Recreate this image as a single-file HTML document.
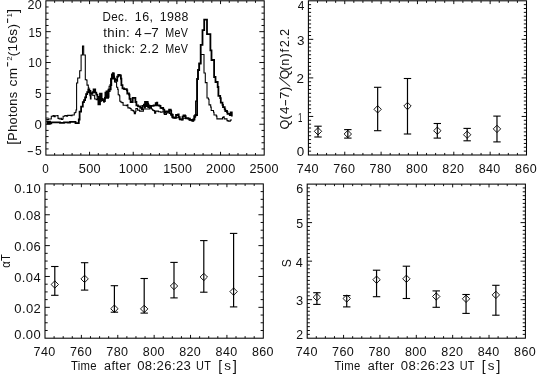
<!DOCTYPE html>
<html><head><meta charset="utf-8"><title>plot</title>
<style>
html,body{margin:0;padding:0;background:#fff;}
svg{display:block;font-family:"Liberation Sans",sans-serif;}
text{white-space:pre;fill:#111;}
</style></head><body>
<svg width="537" height="374" viewBox="0 0 537 374">
<rect width="537" height="374" fill="#fff"/>
<rect x="45.90" y="0.80" width="218.30" height="154.30" fill="none" stroke="#000" stroke-width="1.05"/>
<line x1="54.63" y1="155.10" x2="54.63" y2="153.05" stroke="#000" stroke-width="0.95"/>
<line x1="54.63" y1="0.80" x2="54.63" y2="2.85" stroke="#000" stroke-width="0.95"/>
<line x1="63.36" y1="155.10" x2="63.36" y2="153.05" stroke="#000" stroke-width="0.95"/>
<line x1="63.36" y1="0.80" x2="63.36" y2="2.85" stroke="#000" stroke-width="0.95"/>
<line x1="72.10" y1="155.10" x2="72.10" y2="153.05" stroke="#000" stroke-width="0.95"/>
<line x1="72.10" y1="0.80" x2="72.10" y2="2.85" stroke="#000" stroke-width="0.95"/>
<line x1="80.83" y1="155.10" x2="80.83" y2="153.05" stroke="#000" stroke-width="0.95"/>
<line x1="80.83" y1="0.80" x2="80.83" y2="2.85" stroke="#000" stroke-width="0.95"/>
<line x1="89.56" y1="155.10" x2="89.56" y2="151.80" stroke="#000" stroke-width="0.95"/>
<line x1="89.56" y1="0.80" x2="89.56" y2="4.10" stroke="#000" stroke-width="0.95"/>
<line x1="98.29" y1="155.10" x2="98.29" y2="153.05" stroke="#000" stroke-width="0.95"/>
<line x1="98.29" y1="0.80" x2="98.29" y2="2.85" stroke="#000" stroke-width="0.95"/>
<line x1="107.02" y1="155.10" x2="107.02" y2="153.05" stroke="#000" stroke-width="0.95"/>
<line x1="107.02" y1="0.80" x2="107.02" y2="2.85" stroke="#000" stroke-width="0.95"/>
<line x1="115.76" y1="155.10" x2="115.76" y2="153.05" stroke="#000" stroke-width="0.95"/>
<line x1="115.76" y1="0.80" x2="115.76" y2="2.85" stroke="#000" stroke-width="0.95"/>
<line x1="124.49" y1="155.10" x2="124.49" y2="153.05" stroke="#000" stroke-width="0.95"/>
<line x1="124.49" y1="0.80" x2="124.49" y2="2.85" stroke="#000" stroke-width="0.95"/>
<line x1="133.22" y1="155.10" x2="133.22" y2="151.80" stroke="#000" stroke-width="0.95"/>
<line x1="133.22" y1="0.80" x2="133.22" y2="4.10" stroke="#000" stroke-width="0.95"/>
<line x1="141.95" y1="155.10" x2="141.95" y2="153.05" stroke="#000" stroke-width="0.95"/>
<line x1="141.95" y1="0.80" x2="141.95" y2="2.85" stroke="#000" stroke-width="0.95"/>
<line x1="150.68" y1="155.10" x2="150.68" y2="153.05" stroke="#000" stroke-width="0.95"/>
<line x1="150.68" y1="0.80" x2="150.68" y2="2.85" stroke="#000" stroke-width="0.95"/>
<line x1="159.42" y1="155.10" x2="159.42" y2="153.05" stroke="#000" stroke-width="0.95"/>
<line x1="159.42" y1="0.80" x2="159.42" y2="2.85" stroke="#000" stroke-width="0.95"/>
<line x1="168.15" y1="155.10" x2="168.15" y2="153.05" stroke="#000" stroke-width="0.95"/>
<line x1="168.15" y1="0.80" x2="168.15" y2="2.85" stroke="#000" stroke-width="0.95"/>
<line x1="176.88" y1="155.10" x2="176.88" y2="151.80" stroke="#000" stroke-width="0.95"/>
<line x1="176.88" y1="0.80" x2="176.88" y2="4.10" stroke="#000" stroke-width="0.95"/>
<line x1="185.61" y1="155.10" x2="185.61" y2="153.05" stroke="#000" stroke-width="0.95"/>
<line x1="185.61" y1="0.80" x2="185.61" y2="2.85" stroke="#000" stroke-width="0.95"/>
<line x1="194.34" y1="155.10" x2="194.34" y2="153.05" stroke="#000" stroke-width="0.95"/>
<line x1="194.34" y1="0.80" x2="194.34" y2="2.85" stroke="#000" stroke-width="0.95"/>
<line x1="203.08" y1="155.10" x2="203.08" y2="153.05" stroke="#000" stroke-width="0.95"/>
<line x1="203.08" y1="0.80" x2="203.08" y2="2.85" stroke="#000" stroke-width="0.95"/>
<line x1="211.81" y1="155.10" x2="211.81" y2="153.05" stroke="#000" stroke-width="0.95"/>
<line x1="211.81" y1="0.80" x2="211.81" y2="2.85" stroke="#000" stroke-width="0.95"/>
<line x1="220.54" y1="155.10" x2="220.54" y2="151.80" stroke="#000" stroke-width="0.95"/>
<line x1="220.54" y1="0.80" x2="220.54" y2="4.10" stroke="#000" stroke-width="0.95"/>
<line x1="229.27" y1="155.10" x2="229.27" y2="153.05" stroke="#000" stroke-width="0.95"/>
<line x1="229.27" y1="0.80" x2="229.27" y2="2.85" stroke="#000" stroke-width="0.95"/>
<line x1="238.00" y1="155.10" x2="238.00" y2="153.05" stroke="#000" stroke-width="0.95"/>
<line x1="238.00" y1="0.80" x2="238.00" y2="2.85" stroke="#000" stroke-width="0.95"/>
<line x1="246.74" y1="155.10" x2="246.74" y2="153.05" stroke="#000" stroke-width="0.95"/>
<line x1="246.74" y1="0.80" x2="246.74" y2="2.85" stroke="#000" stroke-width="0.95"/>
<line x1="255.47" y1="155.10" x2="255.47" y2="153.05" stroke="#000" stroke-width="0.95"/>
<line x1="255.47" y1="0.80" x2="255.47" y2="2.85" stroke="#000" stroke-width="0.95"/>
<line x1="45.90" y1="148.93" x2="48.58" y2="148.93" stroke="#000" stroke-width="0.95"/>
<line x1="264.20" y1="148.93" x2="261.52" y2="148.93" stroke="#000" stroke-width="0.95"/>
<line x1="45.90" y1="142.76" x2="48.58" y2="142.76" stroke="#000" stroke-width="0.95"/>
<line x1="264.20" y1="142.76" x2="261.52" y2="142.76" stroke="#000" stroke-width="0.95"/>
<line x1="45.90" y1="136.58" x2="48.58" y2="136.58" stroke="#000" stroke-width="0.95"/>
<line x1="264.20" y1="136.58" x2="261.52" y2="136.58" stroke="#000" stroke-width="0.95"/>
<line x1="45.90" y1="130.41" x2="48.58" y2="130.41" stroke="#000" stroke-width="0.95"/>
<line x1="264.20" y1="130.41" x2="261.52" y2="130.41" stroke="#000" stroke-width="0.95"/>
<line x1="45.90" y1="124.24" x2="50.77" y2="124.24" stroke="#000" stroke-width="0.95"/>
<line x1="264.20" y1="124.24" x2="259.33" y2="124.24" stroke="#000" stroke-width="0.95"/>
<line x1="45.90" y1="118.07" x2="48.58" y2="118.07" stroke="#000" stroke-width="0.95"/>
<line x1="264.20" y1="118.07" x2="261.52" y2="118.07" stroke="#000" stroke-width="0.95"/>
<line x1="45.90" y1="111.90" x2="48.58" y2="111.90" stroke="#000" stroke-width="0.95"/>
<line x1="264.20" y1="111.90" x2="261.52" y2="111.90" stroke="#000" stroke-width="0.95"/>
<line x1="45.90" y1="105.72" x2="48.58" y2="105.72" stroke="#000" stroke-width="0.95"/>
<line x1="264.20" y1="105.72" x2="261.52" y2="105.72" stroke="#000" stroke-width="0.95"/>
<line x1="45.90" y1="99.55" x2="48.58" y2="99.55" stroke="#000" stroke-width="0.95"/>
<line x1="264.20" y1="99.55" x2="261.52" y2="99.55" stroke="#000" stroke-width="0.95"/>
<line x1="45.90" y1="93.38" x2="50.77" y2="93.38" stroke="#000" stroke-width="0.95"/>
<line x1="264.20" y1="93.38" x2="259.33" y2="93.38" stroke="#000" stroke-width="0.95"/>
<line x1="45.90" y1="87.21" x2="48.58" y2="87.21" stroke="#000" stroke-width="0.95"/>
<line x1="264.20" y1="87.21" x2="261.52" y2="87.21" stroke="#000" stroke-width="0.95"/>
<line x1="45.90" y1="81.04" x2="48.58" y2="81.04" stroke="#000" stroke-width="0.95"/>
<line x1="264.20" y1="81.04" x2="261.52" y2="81.04" stroke="#000" stroke-width="0.95"/>
<line x1="45.90" y1="74.86" x2="48.58" y2="74.86" stroke="#000" stroke-width="0.95"/>
<line x1="264.20" y1="74.86" x2="261.52" y2="74.86" stroke="#000" stroke-width="0.95"/>
<line x1="45.90" y1="68.69" x2="48.58" y2="68.69" stroke="#000" stroke-width="0.95"/>
<line x1="264.20" y1="68.69" x2="261.52" y2="68.69" stroke="#000" stroke-width="0.95"/>
<line x1="45.90" y1="62.52" x2="50.77" y2="62.52" stroke="#000" stroke-width="0.95"/>
<line x1="264.20" y1="62.52" x2="259.33" y2="62.52" stroke="#000" stroke-width="0.95"/>
<line x1="45.90" y1="56.35" x2="48.58" y2="56.35" stroke="#000" stroke-width="0.95"/>
<line x1="264.20" y1="56.35" x2="261.52" y2="56.35" stroke="#000" stroke-width="0.95"/>
<line x1="45.90" y1="50.18" x2="48.58" y2="50.18" stroke="#000" stroke-width="0.95"/>
<line x1="264.20" y1="50.18" x2="261.52" y2="50.18" stroke="#000" stroke-width="0.95"/>
<line x1="45.90" y1="44.00" x2="48.58" y2="44.00" stroke="#000" stroke-width="0.95"/>
<line x1="264.20" y1="44.00" x2="261.52" y2="44.00" stroke="#000" stroke-width="0.95"/>
<line x1="45.90" y1="37.83" x2="48.58" y2="37.83" stroke="#000" stroke-width="0.95"/>
<line x1="264.20" y1="37.83" x2="261.52" y2="37.83" stroke="#000" stroke-width="0.95"/>
<line x1="45.90" y1="31.66" x2="50.77" y2="31.66" stroke="#000" stroke-width="0.95"/>
<line x1="264.20" y1="31.66" x2="259.33" y2="31.66" stroke="#000" stroke-width="0.95"/>
<line x1="45.90" y1="25.49" x2="48.58" y2="25.49" stroke="#000" stroke-width="0.95"/>
<line x1="264.20" y1="25.49" x2="261.52" y2="25.49" stroke="#000" stroke-width="0.95"/>
<line x1="45.90" y1="19.32" x2="48.58" y2="19.32" stroke="#000" stroke-width="0.95"/>
<line x1="264.20" y1="19.32" x2="261.52" y2="19.32" stroke="#000" stroke-width="0.95"/>
<line x1="45.90" y1="13.14" x2="48.58" y2="13.14" stroke="#000" stroke-width="0.95"/>
<line x1="264.20" y1="13.14" x2="261.52" y2="13.14" stroke="#000" stroke-width="0.95"/>
<line x1="45.90" y1="6.97" x2="48.58" y2="6.97" stroke="#000" stroke-width="0.95"/>
<line x1="264.20" y1="6.97" x2="261.52" y2="6.97" stroke="#000" stroke-width="0.95"/>
<rect x="308.40" y="0.80" width="218.10" height="154.20" fill="none" stroke="#000" stroke-width="1.05"/>
<line x1="317.49" y1="155.00" x2="317.49" y2="152.95" stroke="#000" stroke-width="0.95"/>
<line x1="317.49" y1="0.80" x2="317.49" y2="2.85" stroke="#000" stroke-width="0.95"/>
<line x1="326.57" y1="155.00" x2="326.57" y2="152.95" stroke="#000" stroke-width="0.95"/>
<line x1="326.57" y1="0.80" x2="326.57" y2="2.85" stroke="#000" stroke-width="0.95"/>
<line x1="335.66" y1="155.00" x2="335.66" y2="152.95" stroke="#000" stroke-width="0.95"/>
<line x1="335.66" y1="0.80" x2="335.66" y2="2.85" stroke="#000" stroke-width="0.95"/>
<line x1="344.75" y1="155.00" x2="344.75" y2="151.70" stroke="#000" stroke-width="0.95"/>
<line x1="344.75" y1="0.80" x2="344.75" y2="4.10" stroke="#000" stroke-width="0.95"/>
<line x1="353.84" y1="155.00" x2="353.84" y2="152.95" stroke="#000" stroke-width="0.95"/>
<line x1="353.84" y1="0.80" x2="353.84" y2="2.85" stroke="#000" stroke-width="0.95"/>
<line x1="362.92" y1="155.00" x2="362.92" y2="152.95" stroke="#000" stroke-width="0.95"/>
<line x1="362.92" y1="0.80" x2="362.92" y2="2.85" stroke="#000" stroke-width="0.95"/>
<line x1="372.01" y1="155.00" x2="372.01" y2="152.95" stroke="#000" stroke-width="0.95"/>
<line x1="372.01" y1="0.80" x2="372.01" y2="2.85" stroke="#000" stroke-width="0.95"/>
<line x1="381.10" y1="155.00" x2="381.10" y2="151.70" stroke="#000" stroke-width="0.95"/>
<line x1="381.10" y1="0.80" x2="381.10" y2="4.10" stroke="#000" stroke-width="0.95"/>
<line x1="390.19" y1="155.00" x2="390.19" y2="152.95" stroke="#000" stroke-width="0.95"/>
<line x1="390.19" y1="0.80" x2="390.19" y2="2.85" stroke="#000" stroke-width="0.95"/>
<line x1="399.27" y1="155.00" x2="399.27" y2="152.95" stroke="#000" stroke-width="0.95"/>
<line x1="399.27" y1="0.80" x2="399.27" y2="2.85" stroke="#000" stroke-width="0.95"/>
<line x1="408.36" y1="155.00" x2="408.36" y2="152.95" stroke="#000" stroke-width="0.95"/>
<line x1="408.36" y1="0.80" x2="408.36" y2="2.85" stroke="#000" stroke-width="0.95"/>
<line x1="417.45" y1="155.00" x2="417.45" y2="151.70" stroke="#000" stroke-width="0.95"/>
<line x1="417.45" y1="0.80" x2="417.45" y2="4.10" stroke="#000" stroke-width="0.95"/>
<line x1="426.54" y1="155.00" x2="426.54" y2="152.95" stroke="#000" stroke-width="0.95"/>
<line x1="426.54" y1="0.80" x2="426.54" y2="2.85" stroke="#000" stroke-width="0.95"/>
<line x1="435.62" y1="155.00" x2="435.62" y2="152.95" stroke="#000" stroke-width="0.95"/>
<line x1="435.62" y1="0.80" x2="435.62" y2="2.85" stroke="#000" stroke-width="0.95"/>
<line x1="444.71" y1="155.00" x2="444.71" y2="152.95" stroke="#000" stroke-width="0.95"/>
<line x1="444.71" y1="0.80" x2="444.71" y2="2.85" stroke="#000" stroke-width="0.95"/>
<line x1="453.80" y1="155.00" x2="453.80" y2="151.70" stroke="#000" stroke-width="0.95"/>
<line x1="453.80" y1="0.80" x2="453.80" y2="4.10" stroke="#000" stroke-width="0.95"/>
<line x1="462.89" y1="155.00" x2="462.89" y2="152.95" stroke="#000" stroke-width="0.95"/>
<line x1="462.89" y1="0.80" x2="462.89" y2="2.85" stroke="#000" stroke-width="0.95"/>
<line x1="471.98" y1="155.00" x2="471.98" y2="152.95" stroke="#000" stroke-width="0.95"/>
<line x1="471.98" y1="0.80" x2="471.98" y2="2.85" stroke="#000" stroke-width="0.95"/>
<line x1="481.06" y1="155.00" x2="481.06" y2="152.95" stroke="#000" stroke-width="0.95"/>
<line x1="481.06" y1="0.80" x2="481.06" y2="2.85" stroke="#000" stroke-width="0.95"/>
<line x1="490.15" y1="155.00" x2="490.15" y2="151.70" stroke="#000" stroke-width="0.95"/>
<line x1="490.15" y1="0.80" x2="490.15" y2="4.10" stroke="#000" stroke-width="0.95"/>
<line x1="499.24" y1="155.00" x2="499.24" y2="152.95" stroke="#000" stroke-width="0.95"/>
<line x1="499.24" y1="0.80" x2="499.24" y2="2.85" stroke="#000" stroke-width="0.95"/>
<line x1="508.32" y1="155.00" x2="508.32" y2="152.95" stroke="#000" stroke-width="0.95"/>
<line x1="508.32" y1="0.80" x2="508.32" y2="2.85" stroke="#000" stroke-width="0.95"/>
<line x1="517.41" y1="155.00" x2="517.41" y2="152.95" stroke="#000" stroke-width="0.95"/>
<line x1="517.41" y1="0.80" x2="517.41" y2="2.85" stroke="#000" stroke-width="0.95"/>
<line x1="308.40" y1="151.15" x2="311.08" y2="151.15" stroke="#000" stroke-width="0.95"/>
<line x1="526.50" y1="151.15" x2="523.82" y2="151.15" stroke="#000" stroke-width="0.95"/>
<line x1="308.40" y1="147.29" x2="311.08" y2="147.29" stroke="#000" stroke-width="0.95"/>
<line x1="526.50" y1="147.29" x2="523.82" y2="147.29" stroke="#000" stroke-width="0.95"/>
<line x1="308.40" y1="143.44" x2="311.08" y2="143.44" stroke="#000" stroke-width="0.95"/>
<line x1="526.50" y1="143.44" x2="523.82" y2="143.44" stroke="#000" stroke-width="0.95"/>
<line x1="308.40" y1="139.58" x2="311.08" y2="139.58" stroke="#000" stroke-width="0.95"/>
<line x1="526.50" y1="139.58" x2="523.82" y2="139.58" stroke="#000" stroke-width="0.95"/>
<line x1="308.40" y1="135.72" x2="311.08" y2="135.72" stroke="#000" stroke-width="0.95"/>
<line x1="526.50" y1="135.72" x2="523.82" y2="135.72" stroke="#000" stroke-width="0.95"/>
<line x1="308.40" y1="131.87" x2="311.08" y2="131.87" stroke="#000" stroke-width="0.95"/>
<line x1="526.50" y1="131.87" x2="523.82" y2="131.87" stroke="#000" stroke-width="0.95"/>
<line x1="308.40" y1="128.01" x2="311.08" y2="128.01" stroke="#000" stroke-width="0.95"/>
<line x1="526.50" y1="128.01" x2="523.82" y2="128.01" stroke="#000" stroke-width="0.95"/>
<line x1="308.40" y1="124.16" x2="311.08" y2="124.16" stroke="#000" stroke-width="0.95"/>
<line x1="526.50" y1="124.16" x2="523.82" y2="124.16" stroke="#000" stroke-width="0.95"/>
<line x1="308.40" y1="120.31" x2="311.08" y2="120.31" stroke="#000" stroke-width="0.95"/>
<line x1="526.50" y1="120.31" x2="523.82" y2="120.31" stroke="#000" stroke-width="0.95"/>
<line x1="308.40" y1="116.45" x2="313.26" y2="116.45" stroke="#000" stroke-width="0.95"/>
<line x1="526.50" y1="116.45" x2="521.64" y2="116.45" stroke="#000" stroke-width="0.95"/>
<line x1="308.40" y1="112.59" x2="311.08" y2="112.59" stroke="#000" stroke-width="0.95"/>
<line x1="526.50" y1="112.59" x2="523.82" y2="112.59" stroke="#000" stroke-width="0.95"/>
<line x1="308.40" y1="108.74" x2="311.08" y2="108.74" stroke="#000" stroke-width="0.95"/>
<line x1="526.50" y1="108.74" x2="523.82" y2="108.74" stroke="#000" stroke-width="0.95"/>
<line x1="308.40" y1="104.89" x2="311.08" y2="104.89" stroke="#000" stroke-width="0.95"/>
<line x1="526.50" y1="104.89" x2="523.82" y2="104.89" stroke="#000" stroke-width="0.95"/>
<line x1="308.40" y1="101.03" x2="311.08" y2="101.03" stroke="#000" stroke-width="0.95"/>
<line x1="526.50" y1="101.03" x2="523.82" y2="101.03" stroke="#000" stroke-width="0.95"/>
<line x1="308.40" y1="97.18" x2="311.08" y2="97.18" stroke="#000" stroke-width="0.95"/>
<line x1="526.50" y1="97.18" x2="523.82" y2="97.18" stroke="#000" stroke-width="0.95"/>
<line x1="308.40" y1="93.32" x2="311.08" y2="93.32" stroke="#000" stroke-width="0.95"/>
<line x1="526.50" y1="93.32" x2="523.82" y2="93.32" stroke="#000" stroke-width="0.95"/>
<line x1="308.40" y1="89.47" x2="311.08" y2="89.47" stroke="#000" stroke-width="0.95"/>
<line x1="526.50" y1="89.47" x2="523.82" y2="89.47" stroke="#000" stroke-width="0.95"/>
<line x1="308.40" y1="85.61" x2="311.08" y2="85.61" stroke="#000" stroke-width="0.95"/>
<line x1="526.50" y1="85.61" x2="523.82" y2="85.61" stroke="#000" stroke-width="0.95"/>
<line x1="308.40" y1="81.75" x2="311.08" y2="81.75" stroke="#000" stroke-width="0.95"/>
<line x1="526.50" y1="81.75" x2="523.82" y2="81.75" stroke="#000" stroke-width="0.95"/>
<line x1="308.40" y1="77.90" x2="313.26" y2="77.90" stroke="#000" stroke-width="0.95"/>
<line x1="526.50" y1="77.90" x2="521.64" y2="77.90" stroke="#000" stroke-width="0.95"/>
<line x1="308.40" y1="74.05" x2="311.08" y2="74.05" stroke="#000" stroke-width="0.95"/>
<line x1="526.50" y1="74.05" x2="523.82" y2="74.05" stroke="#000" stroke-width="0.95"/>
<line x1="308.40" y1="70.19" x2="311.08" y2="70.19" stroke="#000" stroke-width="0.95"/>
<line x1="526.50" y1="70.19" x2="523.82" y2="70.19" stroke="#000" stroke-width="0.95"/>
<line x1="308.40" y1="66.33" x2="311.08" y2="66.33" stroke="#000" stroke-width="0.95"/>
<line x1="526.50" y1="66.33" x2="523.82" y2="66.33" stroke="#000" stroke-width="0.95"/>
<line x1="308.40" y1="62.48" x2="311.08" y2="62.48" stroke="#000" stroke-width="0.95"/>
<line x1="526.50" y1="62.48" x2="523.82" y2="62.48" stroke="#000" stroke-width="0.95"/>
<line x1="308.40" y1="58.62" x2="311.08" y2="58.62" stroke="#000" stroke-width="0.95"/>
<line x1="526.50" y1="58.62" x2="523.82" y2="58.62" stroke="#000" stroke-width="0.95"/>
<line x1="308.40" y1="54.77" x2="311.08" y2="54.77" stroke="#000" stroke-width="0.95"/>
<line x1="526.50" y1="54.77" x2="523.82" y2="54.77" stroke="#000" stroke-width="0.95"/>
<line x1="308.40" y1="50.92" x2="311.08" y2="50.92" stroke="#000" stroke-width="0.95"/>
<line x1="526.50" y1="50.92" x2="523.82" y2="50.92" stroke="#000" stroke-width="0.95"/>
<line x1="308.40" y1="47.06" x2="311.08" y2="47.06" stroke="#000" stroke-width="0.95"/>
<line x1="526.50" y1="47.06" x2="523.82" y2="47.06" stroke="#000" stroke-width="0.95"/>
<line x1="308.40" y1="43.20" x2="311.08" y2="43.20" stroke="#000" stroke-width="0.95"/>
<line x1="526.50" y1="43.20" x2="523.82" y2="43.20" stroke="#000" stroke-width="0.95"/>
<line x1="308.40" y1="39.35" x2="313.26" y2="39.35" stroke="#000" stroke-width="0.95"/>
<line x1="526.50" y1="39.35" x2="521.64" y2="39.35" stroke="#000" stroke-width="0.95"/>
<line x1="308.40" y1="35.50" x2="311.08" y2="35.50" stroke="#000" stroke-width="0.95"/>
<line x1="526.50" y1="35.50" x2="523.82" y2="35.50" stroke="#000" stroke-width="0.95"/>
<line x1="308.40" y1="31.64" x2="311.08" y2="31.64" stroke="#000" stroke-width="0.95"/>
<line x1="526.50" y1="31.64" x2="523.82" y2="31.64" stroke="#000" stroke-width="0.95"/>
<line x1="308.40" y1="27.78" x2="311.08" y2="27.78" stroke="#000" stroke-width="0.95"/>
<line x1="526.50" y1="27.78" x2="523.82" y2="27.78" stroke="#000" stroke-width="0.95"/>
<line x1="308.40" y1="23.93" x2="311.08" y2="23.93" stroke="#000" stroke-width="0.95"/>
<line x1="526.50" y1="23.93" x2="523.82" y2="23.93" stroke="#000" stroke-width="0.95"/>
<line x1="308.40" y1="20.08" x2="311.08" y2="20.08" stroke="#000" stroke-width="0.95"/>
<line x1="526.50" y1="20.08" x2="523.82" y2="20.08" stroke="#000" stroke-width="0.95"/>
<line x1="308.40" y1="16.22" x2="311.08" y2="16.22" stroke="#000" stroke-width="0.95"/>
<line x1="526.50" y1="16.22" x2="523.82" y2="16.22" stroke="#000" stroke-width="0.95"/>
<line x1="308.40" y1="12.37" x2="311.08" y2="12.37" stroke="#000" stroke-width="0.95"/>
<line x1="526.50" y1="12.37" x2="523.82" y2="12.37" stroke="#000" stroke-width="0.95"/>
<line x1="308.40" y1="8.51" x2="311.08" y2="8.51" stroke="#000" stroke-width="0.95"/>
<line x1="526.50" y1="8.51" x2="523.82" y2="8.51" stroke="#000" stroke-width="0.95"/>
<line x1="308.40" y1="4.66" x2="311.08" y2="4.66" stroke="#000" stroke-width="0.95"/>
<line x1="526.50" y1="4.66" x2="523.82" y2="4.66" stroke="#000" stroke-width="0.95"/>
<rect x="45.00" y="183.90" width="218.30" height="154.30" fill="none" stroke="#000" stroke-width="1.05"/>
<line x1="54.10" y1="338.20" x2="54.10" y2="336.15" stroke="#000" stroke-width="0.95"/>
<line x1="54.10" y1="183.90" x2="54.10" y2="185.95" stroke="#000" stroke-width="0.95"/>
<line x1="63.19" y1="338.20" x2="63.19" y2="336.15" stroke="#000" stroke-width="0.95"/>
<line x1="63.19" y1="183.90" x2="63.19" y2="185.95" stroke="#000" stroke-width="0.95"/>
<line x1="72.29" y1="338.20" x2="72.29" y2="336.15" stroke="#000" stroke-width="0.95"/>
<line x1="72.29" y1="183.90" x2="72.29" y2="185.95" stroke="#000" stroke-width="0.95"/>
<line x1="81.38" y1="338.20" x2="81.38" y2="334.90" stroke="#000" stroke-width="0.95"/>
<line x1="81.38" y1="183.90" x2="81.38" y2="187.20" stroke="#000" stroke-width="0.95"/>
<line x1="90.48" y1="338.20" x2="90.48" y2="336.15" stroke="#000" stroke-width="0.95"/>
<line x1="90.48" y1="183.90" x2="90.48" y2="185.95" stroke="#000" stroke-width="0.95"/>
<line x1="99.58" y1="338.20" x2="99.58" y2="336.15" stroke="#000" stroke-width="0.95"/>
<line x1="99.58" y1="183.90" x2="99.58" y2="185.95" stroke="#000" stroke-width="0.95"/>
<line x1="108.67" y1="338.20" x2="108.67" y2="336.15" stroke="#000" stroke-width="0.95"/>
<line x1="108.67" y1="183.90" x2="108.67" y2="185.95" stroke="#000" stroke-width="0.95"/>
<line x1="117.77" y1="338.20" x2="117.77" y2="334.90" stroke="#000" stroke-width="0.95"/>
<line x1="117.77" y1="183.90" x2="117.77" y2="187.20" stroke="#000" stroke-width="0.95"/>
<line x1="126.86" y1="338.20" x2="126.86" y2="336.15" stroke="#000" stroke-width="0.95"/>
<line x1="126.86" y1="183.90" x2="126.86" y2="185.95" stroke="#000" stroke-width="0.95"/>
<line x1="135.96" y1="338.20" x2="135.96" y2="336.15" stroke="#000" stroke-width="0.95"/>
<line x1="135.96" y1="183.90" x2="135.96" y2="185.95" stroke="#000" stroke-width="0.95"/>
<line x1="145.05" y1="338.20" x2="145.05" y2="336.15" stroke="#000" stroke-width="0.95"/>
<line x1="145.05" y1="183.90" x2="145.05" y2="185.95" stroke="#000" stroke-width="0.95"/>
<line x1="154.15" y1="338.20" x2="154.15" y2="334.90" stroke="#000" stroke-width="0.95"/>
<line x1="154.15" y1="183.90" x2="154.15" y2="187.20" stroke="#000" stroke-width="0.95"/>
<line x1="163.25" y1="338.20" x2="163.25" y2="336.15" stroke="#000" stroke-width="0.95"/>
<line x1="163.25" y1="183.90" x2="163.25" y2="185.95" stroke="#000" stroke-width="0.95"/>
<line x1="172.34" y1="338.20" x2="172.34" y2="336.15" stroke="#000" stroke-width="0.95"/>
<line x1="172.34" y1="183.90" x2="172.34" y2="185.95" stroke="#000" stroke-width="0.95"/>
<line x1="181.44" y1="338.20" x2="181.44" y2="336.15" stroke="#000" stroke-width="0.95"/>
<line x1="181.44" y1="183.90" x2="181.44" y2="185.95" stroke="#000" stroke-width="0.95"/>
<line x1="190.53" y1="338.20" x2="190.53" y2="334.90" stroke="#000" stroke-width="0.95"/>
<line x1="190.53" y1="183.90" x2="190.53" y2="187.20" stroke="#000" stroke-width="0.95"/>
<line x1="199.63" y1="338.20" x2="199.63" y2="336.15" stroke="#000" stroke-width="0.95"/>
<line x1="199.63" y1="183.90" x2="199.63" y2="185.95" stroke="#000" stroke-width="0.95"/>
<line x1="208.73" y1="338.20" x2="208.73" y2="336.15" stroke="#000" stroke-width="0.95"/>
<line x1="208.73" y1="183.90" x2="208.73" y2="185.95" stroke="#000" stroke-width="0.95"/>
<line x1="217.82" y1="338.20" x2="217.82" y2="336.15" stroke="#000" stroke-width="0.95"/>
<line x1="217.82" y1="183.90" x2="217.82" y2="185.95" stroke="#000" stroke-width="0.95"/>
<line x1="226.92" y1="338.20" x2="226.92" y2="334.90" stroke="#000" stroke-width="0.95"/>
<line x1="226.92" y1="183.90" x2="226.92" y2="187.20" stroke="#000" stroke-width="0.95"/>
<line x1="236.01" y1="338.20" x2="236.01" y2="336.15" stroke="#000" stroke-width="0.95"/>
<line x1="236.01" y1="183.90" x2="236.01" y2="185.95" stroke="#000" stroke-width="0.95"/>
<line x1="245.11" y1="338.20" x2="245.11" y2="336.15" stroke="#000" stroke-width="0.95"/>
<line x1="245.11" y1="183.90" x2="245.11" y2="185.95" stroke="#000" stroke-width="0.95"/>
<line x1="254.20" y1="338.20" x2="254.20" y2="336.15" stroke="#000" stroke-width="0.95"/>
<line x1="254.20" y1="183.90" x2="254.20" y2="185.95" stroke="#000" stroke-width="0.95"/>
<line x1="45.00" y1="330.49" x2="47.68" y2="330.49" stroke="#000" stroke-width="0.95"/>
<line x1="263.30" y1="330.49" x2="260.62" y2="330.49" stroke="#000" stroke-width="0.95"/>
<line x1="45.00" y1="322.77" x2="47.68" y2="322.77" stroke="#000" stroke-width="0.95"/>
<line x1="263.30" y1="322.77" x2="260.62" y2="322.77" stroke="#000" stroke-width="0.95"/>
<line x1="45.00" y1="315.06" x2="47.68" y2="315.06" stroke="#000" stroke-width="0.95"/>
<line x1="263.30" y1="315.06" x2="260.62" y2="315.06" stroke="#000" stroke-width="0.95"/>
<line x1="45.00" y1="307.34" x2="49.87" y2="307.34" stroke="#000" stroke-width="0.95"/>
<line x1="263.30" y1="307.34" x2="258.43" y2="307.34" stroke="#000" stroke-width="0.95"/>
<line x1="45.00" y1="299.62" x2="47.68" y2="299.62" stroke="#000" stroke-width="0.95"/>
<line x1="263.30" y1="299.62" x2="260.62" y2="299.62" stroke="#000" stroke-width="0.95"/>
<line x1="45.00" y1="291.91" x2="47.68" y2="291.91" stroke="#000" stroke-width="0.95"/>
<line x1="263.30" y1="291.91" x2="260.62" y2="291.91" stroke="#000" stroke-width="0.95"/>
<line x1="45.00" y1="284.19" x2="47.68" y2="284.19" stroke="#000" stroke-width="0.95"/>
<line x1="263.30" y1="284.19" x2="260.62" y2="284.19" stroke="#000" stroke-width="0.95"/>
<line x1="45.00" y1="276.48" x2="49.87" y2="276.48" stroke="#000" stroke-width="0.95"/>
<line x1="263.30" y1="276.48" x2="258.43" y2="276.48" stroke="#000" stroke-width="0.95"/>
<line x1="45.00" y1="268.76" x2="47.68" y2="268.76" stroke="#000" stroke-width="0.95"/>
<line x1="263.30" y1="268.76" x2="260.62" y2="268.76" stroke="#000" stroke-width="0.95"/>
<line x1="45.00" y1="261.05" x2="47.68" y2="261.05" stroke="#000" stroke-width="0.95"/>
<line x1="263.30" y1="261.05" x2="260.62" y2="261.05" stroke="#000" stroke-width="0.95"/>
<line x1="45.00" y1="253.33" x2="47.68" y2="253.33" stroke="#000" stroke-width="0.95"/>
<line x1="263.30" y1="253.33" x2="260.62" y2="253.33" stroke="#000" stroke-width="0.95"/>
<line x1="45.00" y1="245.62" x2="49.87" y2="245.62" stroke="#000" stroke-width="0.95"/>
<line x1="263.30" y1="245.62" x2="258.43" y2="245.62" stroke="#000" stroke-width="0.95"/>
<line x1="45.00" y1="237.91" x2="47.68" y2="237.91" stroke="#000" stroke-width="0.95"/>
<line x1="263.30" y1="237.91" x2="260.62" y2="237.91" stroke="#000" stroke-width="0.95"/>
<line x1="45.00" y1="230.19" x2="47.68" y2="230.19" stroke="#000" stroke-width="0.95"/>
<line x1="263.30" y1="230.19" x2="260.62" y2="230.19" stroke="#000" stroke-width="0.95"/>
<line x1="45.00" y1="222.48" x2="47.68" y2="222.48" stroke="#000" stroke-width="0.95"/>
<line x1="263.30" y1="222.48" x2="260.62" y2="222.48" stroke="#000" stroke-width="0.95"/>
<line x1="45.00" y1="214.76" x2="49.87" y2="214.76" stroke="#000" stroke-width="0.95"/>
<line x1="263.30" y1="214.76" x2="258.43" y2="214.76" stroke="#000" stroke-width="0.95"/>
<line x1="45.00" y1="207.04" x2="47.68" y2="207.04" stroke="#000" stroke-width="0.95"/>
<line x1="263.30" y1="207.04" x2="260.62" y2="207.04" stroke="#000" stroke-width="0.95"/>
<line x1="45.00" y1="199.33" x2="47.68" y2="199.33" stroke="#000" stroke-width="0.95"/>
<line x1="263.30" y1="199.33" x2="260.62" y2="199.33" stroke="#000" stroke-width="0.95"/>
<line x1="45.00" y1="191.62" x2="47.68" y2="191.62" stroke="#000" stroke-width="0.95"/>
<line x1="263.30" y1="191.62" x2="260.62" y2="191.62" stroke="#000" stroke-width="0.95"/>
<rect x="307.20" y="184.10" width="218.20" height="154.10" fill="none" stroke="#000" stroke-width="1.05"/>
<line x1="316.29" y1="338.20" x2="316.29" y2="336.15" stroke="#000" stroke-width="0.95"/>
<line x1="316.29" y1="184.10" x2="316.29" y2="186.15" stroke="#000" stroke-width="0.95"/>
<line x1="325.38" y1="338.20" x2="325.38" y2="336.15" stroke="#000" stroke-width="0.95"/>
<line x1="325.38" y1="184.10" x2="325.38" y2="186.15" stroke="#000" stroke-width="0.95"/>
<line x1="334.47" y1="338.20" x2="334.47" y2="336.15" stroke="#000" stroke-width="0.95"/>
<line x1="334.47" y1="184.10" x2="334.47" y2="186.15" stroke="#000" stroke-width="0.95"/>
<line x1="343.57" y1="338.20" x2="343.57" y2="334.90" stroke="#000" stroke-width="0.95"/>
<line x1="343.57" y1="184.10" x2="343.57" y2="187.40" stroke="#000" stroke-width="0.95"/>
<line x1="352.66" y1="338.20" x2="352.66" y2="336.15" stroke="#000" stroke-width="0.95"/>
<line x1="352.66" y1="184.10" x2="352.66" y2="186.15" stroke="#000" stroke-width="0.95"/>
<line x1="361.75" y1="338.20" x2="361.75" y2="336.15" stroke="#000" stroke-width="0.95"/>
<line x1="361.75" y1="184.10" x2="361.75" y2="186.15" stroke="#000" stroke-width="0.95"/>
<line x1="370.84" y1="338.20" x2="370.84" y2="336.15" stroke="#000" stroke-width="0.95"/>
<line x1="370.84" y1="184.10" x2="370.84" y2="186.15" stroke="#000" stroke-width="0.95"/>
<line x1="379.93" y1="338.20" x2="379.93" y2="334.90" stroke="#000" stroke-width="0.95"/>
<line x1="379.93" y1="184.10" x2="379.93" y2="187.40" stroke="#000" stroke-width="0.95"/>
<line x1="389.02" y1="338.20" x2="389.02" y2="336.15" stroke="#000" stroke-width="0.95"/>
<line x1="389.02" y1="184.10" x2="389.02" y2="186.15" stroke="#000" stroke-width="0.95"/>
<line x1="398.12" y1="338.20" x2="398.12" y2="336.15" stroke="#000" stroke-width="0.95"/>
<line x1="398.12" y1="184.10" x2="398.12" y2="186.15" stroke="#000" stroke-width="0.95"/>
<line x1="407.21" y1="338.20" x2="407.21" y2="336.15" stroke="#000" stroke-width="0.95"/>
<line x1="407.21" y1="184.10" x2="407.21" y2="186.15" stroke="#000" stroke-width="0.95"/>
<line x1="416.30" y1="338.20" x2="416.30" y2="334.90" stroke="#000" stroke-width="0.95"/>
<line x1="416.30" y1="184.10" x2="416.30" y2="187.40" stroke="#000" stroke-width="0.95"/>
<line x1="425.39" y1="338.20" x2="425.39" y2="336.15" stroke="#000" stroke-width="0.95"/>
<line x1="425.39" y1="184.10" x2="425.39" y2="186.15" stroke="#000" stroke-width="0.95"/>
<line x1="434.48" y1="338.20" x2="434.48" y2="336.15" stroke="#000" stroke-width="0.95"/>
<line x1="434.48" y1="184.10" x2="434.48" y2="186.15" stroke="#000" stroke-width="0.95"/>
<line x1="443.57" y1="338.20" x2="443.57" y2="336.15" stroke="#000" stroke-width="0.95"/>
<line x1="443.57" y1="184.10" x2="443.57" y2="186.15" stroke="#000" stroke-width="0.95"/>
<line x1="452.67" y1="338.20" x2="452.67" y2="334.90" stroke="#000" stroke-width="0.95"/>
<line x1="452.67" y1="184.10" x2="452.67" y2="187.40" stroke="#000" stroke-width="0.95"/>
<line x1="461.76" y1="338.20" x2="461.76" y2="336.15" stroke="#000" stroke-width="0.95"/>
<line x1="461.76" y1="184.10" x2="461.76" y2="186.15" stroke="#000" stroke-width="0.95"/>
<line x1="470.85" y1="338.20" x2="470.85" y2="336.15" stroke="#000" stroke-width="0.95"/>
<line x1="470.85" y1="184.10" x2="470.85" y2="186.15" stroke="#000" stroke-width="0.95"/>
<line x1="479.94" y1="338.20" x2="479.94" y2="336.15" stroke="#000" stroke-width="0.95"/>
<line x1="479.94" y1="184.10" x2="479.94" y2="186.15" stroke="#000" stroke-width="0.95"/>
<line x1="489.03" y1="338.20" x2="489.03" y2="334.90" stroke="#000" stroke-width="0.95"/>
<line x1="489.03" y1="184.10" x2="489.03" y2="187.40" stroke="#000" stroke-width="0.95"/>
<line x1="498.12" y1="338.20" x2="498.12" y2="336.15" stroke="#000" stroke-width="0.95"/>
<line x1="498.12" y1="184.10" x2="498.12" y2="186.15" stroke="#000" stroke-width="0.95"/>
<line x1="507.22" y1="338.20" x2="507.22" y2="336.15" stroke="#000" stroke-width="0.95"/>
<line x1="507.22" y1="184.10" x2="507.22" y2="186.15" stroke="#000" stroke-width="0.95"/>
<line x1="516.31" y1="338.20" x2="516.31" y2="336.15" stroke="#000" stroke-width="0.95"/>
<line x1="516.31" y1="184.10" x2="516.31" y2="186.15" stroke="#000" stroke-width="0.95"/>
<line x1="307.20" y1="334.35" x2="309.88" y2="334.35" stroke="#000" stroke-width="0.95"/>
<line x1="525.40" y1="334.35" x2="522.72" y2="334.35" stroke="#000" stroke-width="0.95"/>
<line x1="307.20" y1="330.50" x2="309.88" y2="330.50" stroke="#000" stroke-width="0.95"/>
<line x1="525.40" y1="330.50" x2="522.72" y2="330.50" stroke="#000" stroke-width="0.95"/>
<line x1="307.20" y1="326.64" x2="309.88" y2="326.64" stroke="#000" stroke-width="0.95"/>
<line x1="525.40" y1="326.64" x2="522.72" y2="326.64" stroke="#000" stroke-width="0.95"/>
<line x1="307.20" y1="322.79" x2="309.88" y2="322.79" stroke="#000" stroke-width="0.95"/>
<line x1="525.40" y1="322.79" x2="522.72" y2="322.79" stroke="#000" stroke-width="0.95"/>
<line x1="307.20" y1="318.94" x2="309.88" y2="318.94" stroke="#000" stroke-width="0.95"/>
<line x1="525.40" y1="318.94" x2="522.72" y2="318.94" stroke="#000" stroke-width="0.95"/>
<line x1="307.20" y1="315.08" x2="309.88" y2="315.08" stroke="#000" stroke-width="0.95"/>
<line x1="525.40" y1="315.08" x2="522.72" y2="315.08" stroke="#000" stroke-width="0.95"/>
<line x1="307.20" y1="311.23" x2="309.88" y2="311.23" stroke="#000" stroke-width="0.95"/>
<line x1="525.40" y1="311.23" x2="522.72" y2="311.23" stroke="#000" stroke-width="0.95"/>
<line x1="307.20" y1="307.38" x2="309.88" y2="307.38" stroke="#000" stroke-width="0.95"/>
<line x1="525.40" y1="307.38" x2="522.72" y2="307.38" stroke="#000" stroke-width="0.95"/>
<line x1="307.20" y1="303.53" x2="309.88" y2="303.53" stroke="#000" stroke-width="0.95"/>
<line x1="525.40" y1="303.53" x2="522.72" y2="303.53" stroke="#000" stroke-width="0.95"/>
<line x1="307.20" y1="299.68" x2="312.06" y2="299.68" stroke="#000" stroke-width="0.95"/>
<line x1="525.40" y1="299.68" x2="520.54" y2="299.68" stroke="#000" stroke-width="0.95"/>
<line x1="307.20" y1="295.82" x2="309.88" y2="295.82" stroke="#000" stroke-width="0.95"/>
<line x1="525.40" y1="295.82" x2="522.72" y2="295.82" stroke="#000" stroke-width="0.95"/>
<line x1="307.20" y1="291.97" x2="309.88" y2="291.97" stroke="#000" stroke-width="0.95"/>
<line x1="525.40" y1="291.97" x2="522.72" y2="291.97" stroke="#000" stroke-width="0.95"/>
<line x1="307.20" y1="288.12" x2="309.88" y2="288.12" stroke="#000" stroke-width="0.95"/>
<line x1="525.40" y1="288.12" x2="522.72" y2="288.12" stroke="#000" stroke-width="0.95"/>
<line x1="307.20" y1="284.26" x2="309.88" y2="284.26" stroke="#000" stroke-width="0.95"/>
<line x1="525.40" y1="284.26" x2="522.72" y2="284.26" stroke="#000" stroke-width="0.95"/>
<line x1="307.20" y1="280.41" x2="309.88" y2="280.41" stroke="#000" stroke-width="0.95"/>
<line x1="525.40" y1="280.41" x2="522.72" y2="280.41" stroke="#000" stroke-width="0.95"/>
<line x1="307.20" y1="276.56" x2="309.88" y2="276.56" stroke="#000" stroke-width="0.95"/>
<line x1="525.40" y1="276.56" x2="522.72" y2="276.56" stroke="#000" stroke-width="0.95"/>
<line x1="307.20" y1="272.71" x2="309.88" y2="272.71" stroke="#000" stroke-width="0.95"/>
<line x1="525.40" y1="272.71" x2="522.72" y2="272.71" stroke="#000" stroke-width="0.95"/>
<line x1="307.20" y1="268.86" x2="309.88" y2="268.86" stroke="#000" stroke-width="0.95"/>
<line x1="525.40" y1="268.86" x2="522.72" y2="268.86" stroke="#000" stroke-width="0.95"/>
<line x1="307.20" y1="265.00" x2="309.88" y2="265.00" stroke="#000" stroke-width="0.95"/>
<line x1="525.40" y1="265.00" x2="522.72" y2="265.00" stroke="#000" stroke-width="0.95"/>
<line x1="307.20" y1="261.15" x2="312.06" y2="261.15" stroke="#000" stroke-width="0.95"/>
<line x1="525.40" y1="261.15" x2="520.54" y2="261.15" stroke="#000" stroke-width="0.95"/>
<line x1="307.20" y1="257.30" x2="309.88" y2="257.30" stroke="#000" stroke-width="0.95"/>
<line x1="525.40" y1="257.30" x2="522.72" y2="257.30" stroke="#000" stroke-width="0.95"/>
<line x1="307.20" y1="253.44" x2="309.88" y2="253.44" stroke="#000" stroke-width="0.95"/>
<line x1="525.40" y1="253.44" x2="522.72" y2="253.44" stroke="#000" stroke-width="0.95"/>
<line x1="307.20" y1="249.59" x2="309.88" y2="249.59" stroke="#000" stroke-width="0.95"/>
<line x1="525.40" y1="249.59" x2="522.72" y2="249.59" stroke="#000" stroke-width="0.95"/>
<line x1="307.20" y1="245.74" x2="309.88" y2="245.74" stroke="#000" stroke-width="0.95"/>
<line x1="525.40" y1="245.74" x2="522.72" y2="245.74" stroke="#000" stroke-width="0.95"/>
<line x1="307.20" y1="241.89" x2="309.88" y2="241.89" stroke="#000" stroke-width="0.95"/>
<line x1="525.40" y1="241.89" x2="522.72" y2="241.89" stroke="#000" stroke-width="0.95"/>
<line x1="307.20" y1="238.04" x2="309.88" y2="238.04" stroke="#000" stroke-width="0.95"/>
<line x1="525.40" y1="238.04" x2="522.72" y2="238.04" stroke="#000" stroke-width="0.95"/>
<line x1="307.20" y1="234.18" x2="309.88" y2="234.18" stroke="#000" stroke-width="0.95"/>
<line x1="525.40" y1="234.18" x2="522.72" y2="234.18" stroke="#000" stroke-width="0.95"/>
<line x1="307.20" y1="230.33" x2="309.88" y2="230.33" stroke="#000" stroke-width="0.95"/>
<line x1="525.40" y1="230.33" x2="522.72" y2="230.33" stroke="#000" stroke-width="0.95"/>
<line x1="307.20" y1="226.48" x2="309.88" y2="226.48" stroke="#000" stroke-width="0.95"/>
<line x1="525.40" y1="226.48" x2="522.72" y2="226.48" stroke="#000" stroke-width="0.95"/>
<line x1="307.20" y1="222.62" x2="312.06" y2="222.62" stroke="#000" stroke-width="0.95"/>
<line x1="525.40" y1="222.62" x2="520.54" y2="222.62" stroke="#000" stroke-width="0.95"/>
<line x1="307.20" y1="218.77" x2="309.88" y2="218.77" stroke="#000" stroke-width="0.95"/>
<line x1="525.40" y1="218.77" x2="522.72" y2="218.77" stroke="#000" stroke-width="0.95"/>
<line x1="307.20" y1="214.92" x2="309.88" y2="214.92" stroke="#000" stroke-width="0.95"/>
<line x1="525.40" y1="214.92" x2="522.72" y2="214.92" stroke="#000" stroke-width="0.95"/>
<line x1="307.20" y1="211.07" x2="309.88" y2="211.07" stroke="#000" stroke-width="0.95"/>
<line x1="525.40" y1="211.07" x2="522.72" y2="211.07" stroke="#000" stroke-width="0.95"/>
<line x1="307.20" y1="207.21" x2="309.88" y2="207.21" stroke="#000" stroke-width="0.95"/>
<line x1="525.40" y1="207.21" x2="522.72" y2="207.21" stroke="#000" stroke-width="0.95"/>
<line x1="307.20" y1="203.36" x2="309.88" y2="203.36" stroke="#000" stroke-width="0.95"/>
<line x1="525.40" y1="203.36" x2="522.72" y2="203.36" stroke="#000" stroke-width="0.95"/>
<line x1="307.20" y1="199.51" x2="309.88" y2="199.51" stroke="#000" stroke-width="0.95"/>
<line x1="525.40" y1="199.51" x2="522.72" y2="199.51" stroke="#000" stroke-width="0.95"/>
<line x1="307.20" y1="195.66" x2="309.88" y2="195.66" stroke="#000" stroke-width="0.95"/>
<line x1="525.40" y1="195.66" x2="522.72" y2="195.66" stroke="#000" stroke-width="0.95"/>
<line x1="307.20" y1="191.80" x2="309.88" y2="191.80" stroke="#000" stroke-width="0.95"/>
<line x1="525.40" y1="191.80" x2="522.72" y2="191.80" stroke="#000" stroke-width="0.95"/>
<line x1="307.20" y1="187.95" x2="309.88" y2="187.95" stroke="#000" stroke-width="0.95"/>
<line x1="525.40" y1="187.95" x2="522.72" y2="187.95" stroke="#000" stroke-width="0.95"/>
<path d="M46.2,119.5H48.5V119.0H50.7V119.0H51.3V116.2H53.0V115.6H54.1V116.7H55.2V115.8H57.5V115.6H58.0V118.4H59.2V119.0H60.9V118.4H61.4V119.5H62.5V119.0H63.1V116.2H64.8V115.6H66.5V116.2H67.6V115.4H71.0V115.8H72.1V115.0H73.8V115.0H74.3V112.8H75.5V112.2H76.0V110.0H76.6V110.0H76.6V83.0H77.7V78.0H79.7V70.7H81.1V55.0H82.5V46.0H83.7V55.0H85.3V79.8H86.7V80.3H87.0V85.1H88.3V87.8H88.8V92.6H89.9V95.8H90.4V99.0H91.0V94.7H92.6V95.3H94.2V95.8H94.7V99.0H96.3V99.6H97.4V98.5H98.4V100.1H100.0V101.2H101.6V100.1H103.8V102.2H104.3V99.0H105.4V96.9H106.5V93.7H108.1V89.4H109.1V86.2H110.2V84.6H110.7V78.7H111.6V74.4H112.7V72.8H113.1V75.5H113.9V76.6H114.5V81.9H116.1V82.4H116.6V87.3H117.7V89.4H118.2V94.7H119.3V95.8H119.8V101.2H120.9V102.2H122.0V102.6H123.1V105.3H126.3V105.8H127.3V104.7H127.9V107.9H130.0V108.5H131.1V110.1H132.7V110.6H133.8V111.7H134.3V113.8H135.4V111.7H135.9V108.5H137.5V110.1H139.6V111.1H142.3V111.1H143.4V109.0H148.7V109.0H149.8V106.3H151.4V109.0H152.5V110.1H153.6V110.6H154.6V113.3H155.7V111.1H158.4V111.7H160.5V112.2H162.1V111.8H164.3V114.5H166.4V112.9H169.6V113.4H170.7V115.0H171.8V117.1H173.9V118.2H176.0V117.7H178.2V117.1H179.3V119.3H181.4V120.0H183.0V118.2H185.7V118.7H188.9V120.0H192.1V121.1H193.7V120.0H194.8V117.1H195.6V101.1H197.1V79.0H198.0V70.0H199.2V63.5H200.7V54.5H204.0V54.5H204.0V73.0H205.3V82.6H207.0V98.0H208.4V99.2H209.0V104.9H210.7V107.1H211.2V110.5H213.5V112.2H214.0V115.0H216.3V116.1H216.9V118.9H220.2V118.9H222.5V117.4H223.6V116.7H224.2V118.9H227.0V120.6H228.1V121.1H230.3V120.0H232.0V120.0" fill="none" stroke="#000" stroke-width="1.08" stroke-linejoin="miter"/>
<path d="M46.2,121.4H47.5V123.6H48.8V121.6H50.0V123.3H51.3V122.3H56.0V122.3H60.0V122.8H64.0V122.3H68.0V122.6H70.0V121.8H73.5V121.8H75.5V123.2H77.2V123.2H78.8V119.5H79.6V111.7H81.1V106.6H82.8V102.1H84.0V100.1H85.1V97.4H86.1V94.2H87.2V92.1H88.3V89.4H89.3V91.0H90.4V93.7H91.5V93.1H92.6V92.1H93.6V89.4H94.7V89.4H95.2V92.6H96.3V94.7H97.4V96.9H98.4V104.4H99.5V104.4H100.0V93.7H101.1V93.7H101.6V99.0H102.7V100.1H103.8V101.2H104.9V97.9H105.4V92.6H106.5V91.5H107.0V97.9H108.1V96.9H108.6V91.0H109.7V89.4H110.7V85.1H111.3V78.7H112.3V74.4H113.4V73.3H113.9V78.7H115.0V79.8H116.1V80.8H117.2V76.6H118.2V75.0H119.8V75.5H120.9V78.7H121.4V85.1H122.5V88.3H124.1V89.2H126.8V90.3H127.3V93.5H129.0V94.6H129.5V98.8H130.6V102.0H132.7V102.0H132.7V97.8H135.4V97.8H135.4V102.0H136.4V105.3H138.0V106.3H140.2V107.9H141.8V109.0H142.3V105.8H143.9V104.7H144.5V107.5H145.0V102.0H146.0V106.0H146.6V102.0H147.1V102.0H147.7V103.6H148.2V107.0H148.7V105.3H149.3V107.4H150.3V107.9H150.9V105.8H153.6V105.3H155.2V105.3H155.7V103.1H156.8V102.6H157.3V105.3H159.4V105.8H160.5V107.9H161.6V108.0H163.2V109.6H164.3V112.9H165.3V111.3H167.5V111.8H169.1V109.6H170.7V110.7H171.2V114.5H172.3V115.0H172.8V117.7H175.5V117.7H176.0V115.0H178.2V114.5H178.7V117.1H179.8V119.3H181.4V119.3H182.5V116.6H183.5V115.5H185.1V116.1H185.7V118.2H188.3V118.7H189.9V119.8H191.6V120.3H193.2V119.3H194.2V116.1H195.3V115.0H196.4V115.0H197.1V107.0H197.1V79.0H198.0V70.0H199.2V63.5H200.7V44.8H202.5V30.2H204.2V19.6H207.0V19.6H207.0V34.2H210.4V50.4H211.5V60.0H214.1V77.0H215.5V82.0H217.7V87.0H218.4V95.9H220.2V98.1H220.8V102.6H222.5V104.9H223.0V107.1H224.7V109.3H225.3V111.0H227.0V112.2H227.5V113.8H229.8V115.0H230.6V112.4H231.8V112.4H231.8V116.5" fill="none" stroke="#000" stroke-width="1.8" stroke-linejoin="miter"/>
<line x1="318.00" y1="126.20" x2="318.00" y2="137.00" stroke="#000" stroke-width="1.2"/>
<line x1="314.30" y1="126.20" x2="321.70" y2="126.20" stroke="#000" stroke-width="1.1"/>
<line x1="314.30" y1="137.00" x2="321.70" y2="137.00" stroke="#000" stroke-width="1.1"/>
<path d="M314.30,131.30 L318.00,127.60 L321.70,131.30 L318.00,135.00 Z" fill="none" stroke="#000" stroke-width="0.9"/>
<line x1="347.83" y1="129.60" x2="347.83" y2="138.10" stroke="#000" stroke-width="1.2"/>
<line x1="344.13" y1="129.60" x2="351.53" y2="129.60" stroke="#000" stroke-width="1.1"/>
<line x1="344.13" y1="138.10" x2="351.53" y2="138.10" stroke="#000" stroke-width="1.1"/>
<path d="M344.13,134.00 L347.83,130.30 L351.53,134.00 L347.83,137.70 Z" fill="none" stroke="#000" stroke-width="0.9"/>
<line x1="377.66" y1="87.30" x2="377.66" y2="130.70" stroke="#000" stroke-width="1.2"/>
<line x1="373.96" y1="87.30" x2="381.36" y2="87.30" stroke="#000" stroke-width="1.1"/>
<line x1="373.96" y1="130.70" x2="381.36" y2="130.70" stroke="#000" stroke-width="1.1"/>
<path d="M373.96,109.30 L377.66,105.60 L381.36,109.30 L377.66,113.00 Z" fill="none" stroke="#000" stroke-width="0.9"/>
<line x1="407.49" y1="78.50" x2="407.49" y2="134.00" stroke="#000" stroke-width="1.2"/>
<line x1="403.79" y1="78.50" x2="411.19" y2="78.50" stroke="#000" stroke-width="1.1"/>
<line x1="403.79" y1="134.00" x2="411.19" y2="134.00" stroke="#000" stroke-width="1.1"/>
<path d="M403.79,106.00 L407.49,102.30 L411.19,106.00 L407.49,109.70 Z" fill="none" stroke="#000" stroke-width="0.9"/>
<line x1="437.32" y1="123.50" x2="437.32" y2="138.10" stroke="#000" stroke-width="1.2"/>
<line x1="433.62" y1="123.50" x2="441.02" y2="123.50" stroke="#000" stroke-width="1.1"/>
<line x1="433.62" y1="138.10" x2="441.02" y2="138.10" stroke="#000" stroke-width="1.1"/>
<path d="M433.62,130.70 L437.32,127.00 L441.02,130.70 L437.32,134.40 Z" fill="none" stroke="#000" stroke-width="0.9"/>
<line x1="467.15" y1="128.40" x2="467.15" y2="140.80" stroke="#000" stroke-width="1.2"/>
<line x1="463.45" y1="128.40" x2="470.85" y2="128.40" stroke="#000" stroke-width="1.1"/>
<line x1="463.45" y1="140.80" x2="470.85" y2="140.80" stroke="#000" stroke-width="1.1"/>
<path d="M463.45,134.70 L467.15,131.00 L470.85,134.70 L467.15,138.40 Z" fill="none" stroke="#000" stroke-width="0.9"/>
<line x1="496.98" y1="116.10" x2="496.98" y2="141.90" stroke="#000" stroke-width="1.2"/>
<line x1="493.28" y1="116.10" x2="500.68" y2="116.10" stroke="#000" stroke-width="1.1"/>
<line x1="493.28" y1="141.90" x2="500.68" y2="141.90" stroke="#000" stroke-width="1.1"/>
<path d="M493.28,128.90 L496.98,125.20 L500.68,128.90 L496.98,132.60 Z" fill="none" stroke="#000" stroke-width="0.9"/>
<line x1="54.80" y1="266.50" x2="54.80" y2="295.30" stroke="#000" stroke-width="1.2"/>
<line x1="51.10" y1="266.50" x2="58.50" y2="266.50" stroke="#000" stroke-width="1.1"/>
<line x1="51.10" y1="295.30" x2="58.50" y2="295.30" stroke="#000" stroke-width="1.1"/>
<path d="M51.10,284.50 L54.80,280.80 L58.50,284.50 L54.80,288.20 Z" fill="none" stroke="#000" stroke-width="0.9"/>
<line x1="84.60" y1="262.70" x2="84.60" y2="290.10" stroke="#000" stroke-width="1.2"/>
<line x1="80.90" y1="262.70" x2="88.30" y2="262.70" stroke="#000" stroke-width="1.1"/>
<line x1="80.90" y1="290.10" x2="88.30" y2="290.10" stroke="#000" stroke-width="1.1"/>
<path d="M80.90,278.90 L84.60,275.20 L88.30,278.90 L84.60,282.60 Z" fill="none" stroke="#000" stroke-width="0.9"/>
<line x1="114.40" y1="285.70" x2="114.40" y2="312.20" stroke="#000" stroke-width="1.2"/>
<line x1="110.70" y1="285.70" x2="118.10" y2="285.70" stroke="#000" stroke-width="1.1"/>
<line x1="110.70" y1="312.20" x2="118.10" y2="312.20" stroke="#000" stroke-width="1.1"/>
<path d="M110.70,308.70 L114.40,305.00 L118.10,308.70 L114.40,312.40 Z" fill="none" stroke="#000" stroke-width="0.9"/>
<line x1="144.20" y1="278.50" x2="144.20" y2="313.10" stroke="#000" stroke-width="1.2"/>
<line x1="140.50" y1="278.50" x2="147.90" y2="278.50" stroke="#000" stroke-width="1.1"/>
<line x1="140.50" y1="313.10" x2="147.90" y2="313.10" stroke="#000" stroke-width="1.1"/>
<path d="M140.50,308.90 L144.20,305.20 L147.90,308.90 L144.20,312.60 Z" fill="none" stroke="#000" stroke-width="0.9"/>
<line x1="174.00" y1="262.40" x2="174.00" y2="297.90" stroke="#000" stroke-width="1.2"/>
<line x1="170.30" y1="262.40" x2="177.70" y2="262.40" stroke="#000" stroke-width="1.1"/>
<line x1="170.30" y1="297.90" x2="177.70" y2="297.90" stroke="#000" stroke-width="1.1"/>
<path d="M170.30,286.00 L174.00,282.30 L177.70,286.00 L174.00,289.70 Z" fill="none" stroke="#000" stroke-width="0.9"/>
<line x1="203.80" y1="240.60" x2="203.80" y2="292.20" stroke="#000" stroke-width="1.2"/>
<line x1="200.10" y1="240.60" x2="207.50" y2="240.60" stroke="#000" stroke-width="1.1"/>
<line x1="200.10" y1="292.20" x2="207.50" y2="292.20" stroke="#000" stroke-width="1.1"/>
<path d="M200.10,277.00 L203.80,273.30 L207.50,277.00 L203.80,280.70 Z" fill="none" stroke="#000" stroke-width="0.9"/>
<line x1="233.60" y1="233.40" x2="233.60" y2="306.90" stroke="#000" stroke-width="1.2"/>
<line x1="229.90" y1="233.40" x2="237.30" y2="233.40" stroke="#000" stroke-width="1.1"/>
<line x1="229.90" y1="306.90" x2="237.30" y2="306.90" stroke="#000" stroke-width="1.1"/>
<path d="M229.90,291.60 L233.60,287.90 L237.30,291.60 L233.60,295.30 Z" fill="none" stroke="#000" stroke-width="0.9"/>
<line x1="316.90" y1="292.70" x2="316.90" y2="304.40" stroke="#000" stroke-width="1.2"/>
<line x1="313.20" y1="292.70" x2="320.60" y2="292.70" stroke="#000" stroke-width="1.1"/>
<line x1="313.20" y1="304.40" x2="320.60" y2="304.40" stroke="#000" stroke-width="1.1"/>
<path d="M313.20,297.20 L316.90,293.50 L320.60,297.20 L316.90,300.90 Z" fill="none" stroke="#000" stroke-width="0.9"/>
<line x1="346.73" y1="295.60" x2="346.73" y2="306.90" stroke="#000" stroke-width="1.2"/>
<line x1="343.03" y1="295.60" x2="350.43" y2="295.60" stroke="#000" stroke-width="1.1"/>
<line x1="343.03" y1="306.90" x2="350.43" y2="306.90" stroke="#000" stroke-width="1.1"/>
<path d="M343.03,298.50 L346.73,294.80 L350.43,298.50 L346.73,302.20 Z" fill="none" stroke="#000" stroke-width="0.9"/>
<line x1="376.56" y1="270.20" x2="376.56" y2="296.70" stroke="#000" stroke-width="1.2"/>
<line x1="372.86" y1="270.20" x2="380.26" y2="270.20" stroke="#000" stroke-width="1.1"/>
<line x1="372.86" y1="296.70" x2="380.26" y2="296.70" stroke="#000" stroke-width="1.1"/>
<path d="M372.86,279.70 L376.56,276.00 L380.26,279.70 L376.56,283.40 Z" fill="none" stroke="#000" stroke-width="0.9"/>
<line x1="406.39" y1="266.20" x2="406.39" y2="298.50" stroke="#000" stroke-width="1.2"/>
<line x1="402.69" y1="266.20" x2="410.09" y2="266.20" stroke="#000" stroke-width="1.1"/>
<line x1="402.69" y1="298.50" x2="410.09" y2="298.50" stroke="#000" stroke-width="1.1"/>
<path d="M402.69,278.80 L406.39,275.10 L410.09,278.80 L406.39,282.50 Z" fill="none" stroke="#000" stroke-width="0.9"/>
<line x1="436.22" y1="290.90" x2="436.22" y2="307.30" stroke="#000" stroke-width="1.2"/>
<line x1="432.52" y1="290.90" x2="439.92" y2="290.90" stroke="#000" stroke-width="1.1"/>
<line x1="432.52" y1="307.30" x2="439.92" y2="307.30" stroke="#000" stroke-width="1.1"/>
<path d="M432.52,296.50 L436.22,292.80 L439.92,296.50 L436.22,300.20 Z" fill="none" stroke="#000" stroke-width="0.9"/>
<line x1="466.05" y1="294.50" x2="466.05" y2="313.40" stroke="#000" stroke-width="1.2"/>
<line x1="462.35" y1="294.50" x2="469.75" y2="294.50" stroke="#000" stroke-width="1.1"/>
<line x1="462.35" y1="313.40" x2="469.75" y2="313.40" stroke="#000" stroke-width="1.1"/>
<path d="M462.35,298.80 L466.05,295.10 L469.75,298.80 L466.05,302.50 Z" fill="none" stroke="#000" stroke-width="0.9"/>
<line x1="495.88" y1="285.30" x2="495.88" y2="315.20" stroke="#000" stroke-width="1.2"/>
<line x1="492.18" y1="285.30" x2="499.58" y2="285.30" stroke="#000" stroke-width="1.1"/>
<line x1="492.18" y1="315.20" x2="499.58" y2="315.20" stroke="#000" stroke-width="1.1"/>
<path d="M492.18,294.90 L495.88,291.20 L499.58,294.90 L495.88,298.60 Z" fill="none" stroke="#000" stroke-width="0.9"/>
<text transform="translate(102.55,20.70) scale(0.969,1)" font-size="12.0" letter-spacing="0.350">Dec.</text>
<text transform="translate(134.85,20.70) scale(1.040,1)" font-size="12.0" letter-spacing="0.350">16,</text>
<text transform="translate(159.86,20.70) scale(1.030,1)" font-size="12.0" letter-spacing="0.350">1988</text>
<text transform="translate(103.30,37.00) scale(1.096,1)" font-size="12.0" letter-spacing="0.350">thin:</text>
<text transform="translate(134.71,37.00) scale(1.042,1)" font-size="12.0">4</text>
<text transform="translate(143.26,37.00) scale(2.321,1)" font-size="12.0">-</text>
<text transform="translate(151.21,37.00) scale(1.120,1)" font-size="12.0">7</text>
<text transform="translate(165.22,37.00) scale(0.896,1)" font-size="12.0" letter-spacing="0.350">MeV</text>
<text transform="translate(103.31,52.90) scale(1.064,1)" font-size="12.0" letter-spacing="0.350">thick:</text>
<text transform="translate(139.84,52.90) scale(1.088,1)" font-size="12.0" letter-spacing="0.350">2.2</text>
<text transform="translate(165.22,52.90) scale(0.896,1)" font-size="12.0" letter-spacing="0.350">MeV</text>
<text transform="translate(27.47,9.40) scale(1.046,1)" font-size="12.0" letter-spacing="0.350">20</text>
<text transform="translate(28.41,36.50) scale(0.969,1)" font-size="12.0" letter-spacing="0.350">15</text>
<text transform="translate(28.29,67.20) scale(0.991,1)" font-size="12.0" letter-spacing="0.350">10</text>
<text transform="translate(35.12,98.10) scale(1.002,1)" font-size="12.0">5</text>
<text transform="translate(34.59,128.90) scale(1.098,1)" font-size="12.0">0</text>
<text transform="translate(26.85,155.00) scale(1.775,1)" font-size="12.0">-</text>
<text transform="translate(35.11,155.40) scale(1.019,1)" font-size="12.0">5</text>
<text transform="translate(42.14,173.20) scale(0.976,1)" font-size="12.0">0</text>
<text transform="translate(78.69,173.20) scale(1.062,1)" font-size="12.0" letter-spacing="0.350">500</text>
<text transform="translate(118.64,173.20) scale(1.055,1)" font-size="12.0" letter-spacing="0.350">1000</text>
<text transform="translate(163.26,173.20) scale(1.032,1)" font-size="12.0" letter-spacing="0.350">1500</text>
<text transform="translate(205.96,173.20) scale(1.061,1)" font-size="12.0" letter-spacing="0.350">2000</text>
<text transform="translate(249.47,173.20) scale(1.050,1)" font-size="12.0" letter-spacing="0.350">2500</text>
<text transform="translate(296.85,173.20) scale(1.049,1)" font-size="12.0" letter-spacing="0.350">740</text>
<text transform="translate(33.55,356.20) scale(1.049,1)" font-size="12.0" letter-spacing="0.350">740</text>
<text transform="translate(295.75,356.20) scale(1.049,1)" font-size="12.0" letter-spacing="0.350">740</text>
<text transform="translate(333.20,173.20) scale(1.049,1)" font-size="12.0" letter-spacing="0.350">760</text>
<text transform="translate(69.94,356.20) scale(1.049,1)" font-size="12.0" letter-spacing="0.350">760</text>
<text transform="translate(332.12,356.20) scale(1.049,1)" font-size="12.0" letter-spacing="0.350">760</text>
<text transform="translate(369.55,173.20) scale(1.049,1)" font-size="12.0" letter-spacing="0.350">780</text>
<text transform="translate(106.32,356.20) scale(1.049,1)" font-size="12.0" letter-spacing="0.350">780</text>
<text transform="translate(368.49,356.20) scale(1.049,1)" font-size="12.0" letter-spacing="0.350">780</text>
<text transform="translate(406.01,173.20) scale(1.044,1)" font-size="12.0" letter-spacing="0.350">800</text>
<text transform="translate(142.81,356.20) scale(1.044,1)" font-size="12.0" letter-spacing="0.350">800</text>
<text transform="translate(404.96,356.20) scale(1.044,1)" font-size="12.0" letter-spacing="0.350">800</text>
<text transform="translate(442.36,173.20) scale(1.044,1)" font-size="12.0" letter-spacing="0.350">820</text>
<text transform="translate(179.19,356.20) scale(1.044,1)" font-size="12.0" letter-spacing="0.350">820</text>
<text transform="translate(441.32,356.20) scale(1.044,1)" font-size="12.0" letter-spacing="0.350">820</text>
<text transform="translate(478.71,173.20) scale(1.044,1)" font-size="12.0" letter-spacing="0.350">840</text>
<text transform="translate(215.57,356.20) scale(1.044,1)" font-size="12.0" letter-spacing="0.350">840</text>
<text transform="translate(477.69,356.20) scale(1.044,1)" font-size="12.0" letter-spacing="0.350">840</text>
<text transform="translate(515.06,173.20) scale(1.044,1)" font-size="12.0" letter-spacing="0.350">860</text>
<text transform="translate(251.96,356.20) scale(1.044,1)" font-size="12.0" letter-spacing="0.350">860</text>
<text transform="translate(514.06,356.20) scale(1.044,1)" font-size="12.0" letter-spacing="0.350">860</text>
<text transform="translate(297.63,9.60) scale(0.992,1)" font-size="12.0">4</text>
<text transform="translate(297.10,44.60) scale(1.120,1)" font-size="12.0">3</text>
<text transform="translate(296.56,83.00) scale(1.120,1)" font-size="12.0">2</text>
<text transform="translate(298.00,121.60) scale(0.657,1)" font-size="12.0">1</text>
<text transform="translate(296.86,156.10) scale(1.120,1)" font-size="12.0">0</text>
<text transform="translate(296.16,192.90) scale(1.047,1)" font-size="12.0">6</text>
<text transform="translate(296.20,228.20) scale(1.037,1)" font-size="12.0">5</text>
<text transform="translate(295.81,266.70) scale(1.058,1)" font-size="12.0">4</text>
<text transform="translate(296.01,305.20) scale(1.072,1)" font-size="12.0">3</text>
<text transform="translate(296.18,339.20) scale(1.024,1)" font-size="12.0">2</text>
<text transform="translate(14.29,192.80) scale(1.082,1)" font-size="12.0" letter-spacing="0.350">0.10</text>
<text transform="translate(14.29,220.00) scale(1.085,1)" font-size="12.0" letter-spacing="0.350">0.08</text>
<text transform="translate(14.29,250.80) scale(1.085,1)" font-size="12.0" letter-spacing="0.350">0.06</text>
<text transform="translate(14.30,281.80) scale(1.077,1)" font-size="12.0" letter-spacing="0.350">0.04</text>
<text transform="translate(14.29,312.80) scale(1.089,1)" font-size="12.0" letter-spacing="0.350">0.02</text>
<text transform="translate(14.29,339.30) scale(1.082,1)" font-size="12.0" letter-spacing="0.350">0.00</text>
<text transform="translate(70.95,370.30) scale(0.944,1)" font-size="12.0" letter-spacing="0.350">Time</text>
<text transform="translate(104.07,370.30) scale(1.048,1)" font-size="12.0" letter-spacing="0.350">after</text>
<text transform="translate(137.19,370.30) scale(1.094,1)" font-size="12.0" letter-spacing="0.350">08:26:23</text>
<text transform="translate(196.06,370.30) scale(0.911,1)" font-size="12.0" letter-spacing="0.350">UT</text>
<text transform="translate(218.20,371.10) scale(0.952,1)" font-size="14.8">[</text>
<text transform="translate(224.15,370.30) scale(1.120,1)" font-size="12.0">s</text>
<text transform="translate(232.68,371.10) scale(1.020,1)" font-size="14.8">]</text>
<text transform="translate(334.55,370.30) scale(0.944,1)" font-size="12.0" letter-spacing="0.350">Time</text>
<text transform="translate(367.67,370.30) scale(1.048,1)" font-size="12.0" letter-spacing="0.350">after</text>
<text transform="translate(400.79,370.30) scale(1.094,1)" font-size="12.0" letter-spacing="0.350">08:26:23</text>
<text transform="translate(459.66,370.30) scale(0.911,1)" font-size="12.0" letter-spacing="0.350">UT</text>
<text transform="translate(481.80,371.10) scale(0.952,1)" font-size="14.8">[</text>
<text transform="translate(487.75,370.30) scale(1.120,1)" font-size="12.0">s</text>
<text transform="translate(496.28,371.10) scale(1.020,1)" font-size="14.8">]</text>
<text transform="rotate(-90) translate(-144.80,17.50) scale(0.952,1)" font-size="14.8">[</text>
<text transform="rotate(-90) translate(-140.64,17.20) scale(1.056,1)" font-size="12.0" letter-spacing="0.350">Photons</text>
<text transform="rotate(-90) translate(-86.48,17.20) scale(1.130,1)" font-size="12.0" letter-spacing="0.350">cm</text>
<text transform="rotate(-90) translate(-67.28,11.40) scale(1.468,1)" font-size="12.0">-</text>
<text transform="rotate(-90) translate(-60.80,12.10) scale(1.040,1)" font-size="7.6">2</text>
<text transform="rotate(-90) translate(-56.34,17.20) scale(1.127,1)" font-size="12.0" letter-spacing="0.350">(16s)</text>
<text transform="rotate(-90) translate(-23.70,11.40) scale(1.502,1)" font-size="12.0">-</text>
<text transform="rotate(-90) translate(-17.37,11.80) scale(0.977,1)" font-size="7.6">1</text>
<text transform="rotate(-90) translate(-12.91,17.50) scale(0.952,1)" font-size="14.8">]</text>
<text transform="rotate(-90) translate(-129.40,289.00) scale(1.062,1)" font-size="12.0">Q</text>
<text transform="rotate(-90) translate(-119.60,289.00) scale(1.069,1)" font-size="12.0">(</text>
<text transform="rotate(-90) translate(-114.09,289.00) scale(1.120,1)" font-size="12.0">4</text>
<text transform="rotate(-90) translate(-106.42,289.00) scale(1.911,1)" font-size="12.0">-</text>
<text transform="rotate(-90) translate(-99.08,289.00) scale(1.100,1)" font-size="12.0">7</text>
<text transform="rotate(-90) translate(-90.88,289.00) scale(1.069,1)" font-size="12.0">)</text>
<text transform="rotate(-90) translate(-87.00,290.3) skewX(-28)" font-size="15">/</text>
<text transform="rotate(-90) translate(-79.28,289.00) scale(1.025,1)" font-size="12.0">Q</text>
<text transform="rotate(-90) translate(-70.60,289.00) scale(1.069,1)" font-size="12.0">(</text>
<text transform="rotate(-90) translate(-65.64,289.00) scale(1.059,1)" font-size="12.0">n</text>
<text transform="rotate(-90) translate(-57.48,289.00) scale(1.069,1)" font-size="12.0">)</text>
<text transform="rotate(-90) translate(-52.47,289.00) scale(1.120,1)" font-size="12.0">f</text>
<text transform="rotate(-90) translate(-47.35,289.00) scale(1.070,1)" font-size="12.0" letter-spacing="0.350">2.2</text>
<text transform="rotate(-90) translate(-267.87,9.80) scale(0.939,1)" font-size="12.0" letter-spacing="0.350">αT</text>
<text transform="rotate(-90) translate(-267.15,290.90) scale(1.013,1)" font-size="12.0">S</text>
</svg>
</body></html>
